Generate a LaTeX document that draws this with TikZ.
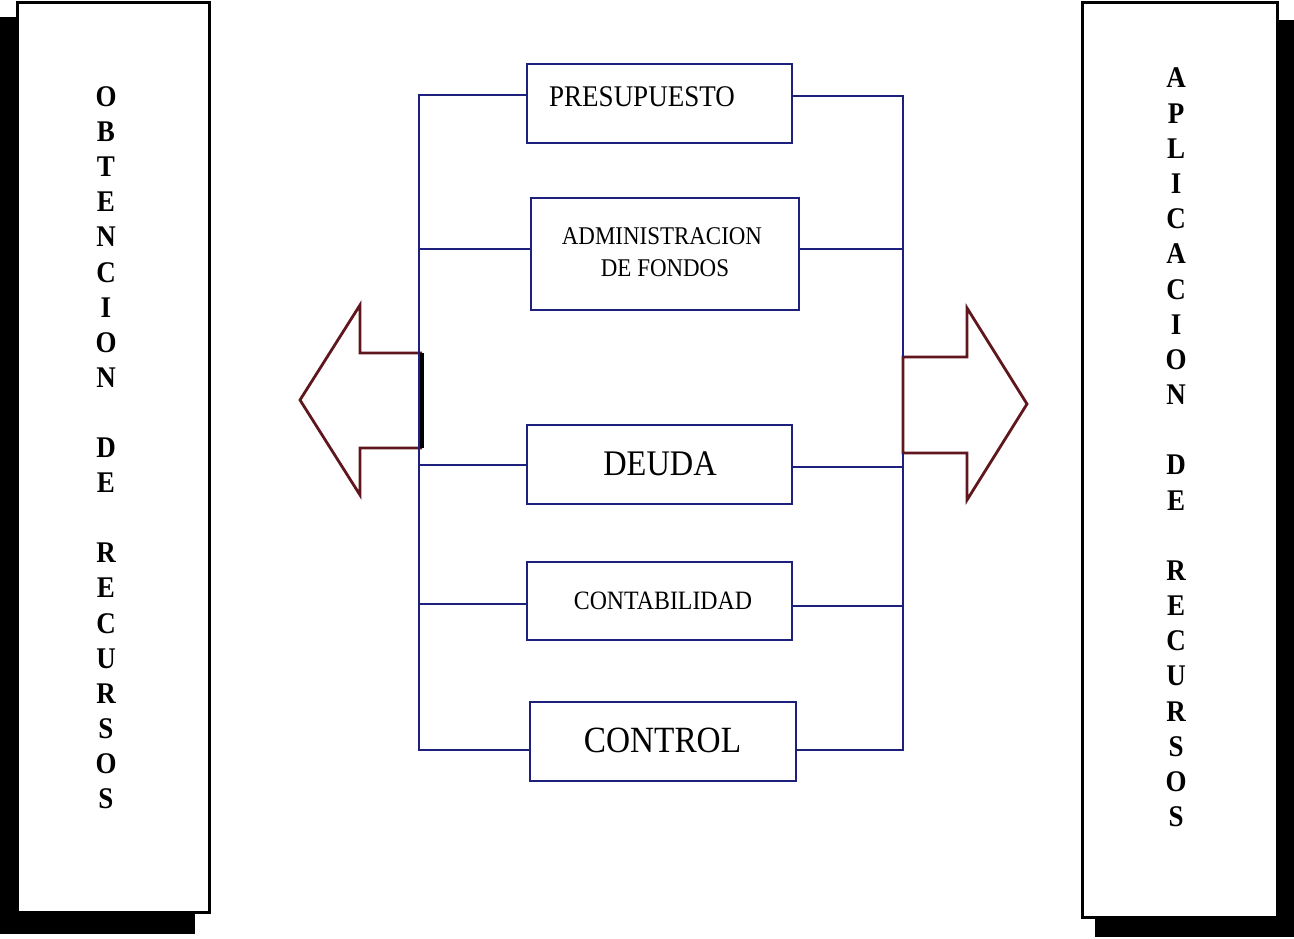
\documentclass[tikz,border=0pt]{standalone}
\usepackage{fontspec}
\setmainfont{Liberation Serif}
\newfontfamily\condfont[FakeStretch=0.9]{Liberation Serif}
\definecolor{navy}{RGB}{30,32,125}
\definecolor{maroon}{RGB}{95,22,28}
\begin{document}
\begin{tikzpicture}[x=1pt,y=-1pt,
  sidebox/.style={draw=black,line width=3pt,fill=white},
  shadowbox/.style={fill=black,draw=none},
  cbox/.style={draw=navy,line width=2.6pt,rectangle,inner sep=0pt},
  bus/.style={draw=navy,line width=2.6pt},
  bigarrow/.style={draw=maroon,line width=2.8pt,line join=miter,fill=white},
  vletter/.style={anchor=base,inner sep=0pt,font=\condfont\bfseries\fontsize{30}{36}\selectfont},
  lbl/.style={anchor=base,inner sep=0pt}]
\useasboundingbox (0,0) rectangle (1294,939);

% side panels with drop shadows
\fill[shadowbox] (0,17) rectangle (195,934);
\draw[sidebox] (17,3) rectangle (209,912);
\fill[shadowbox] (1095,20) rectangle (1294,937);
\draw[sidebox] (1082,3) rectangle (1277,917);

% vertical captions
\foreach \ch/\k in {O/0,B/1,T/2,E/3,N/4,C/5,I/6,O/7,N/8,D/10,E/11,R/13,E/14,C/15,U/16,R/17,S/18,O/19,S/20}
  \node[vletter] (L\k) at (106,106.5+35.1*\k) {\ch};
\foreach \ch/\k in {A/0,P/1,L/2,I/3,C/4,A/5,C/6,I/7,O/8,N/9,D/11,E/12,R/14,E/15,C/16,U/17,R/18,S/19,O/20,S/21}
  \node[vletter] (R\k) at (1176,88+35.17*\k) {\ch};

% big arrows
\draw[bigarrow] (422,353) -- (360,353) -- (360,305) -- (300,400) -- (360,495) -- (360,448) -- (422,448);
\draw[black,line width=4pt] (422,353) -- (422,448);
\draw[bigarrow] (903,357) -- (967,357) -- (967,308) -- (1027,404) -- (967,500) -- (967,453) -- (903,453) -- cycle;

% central boxes
\node[cbox,minimum width=265pt,minimum height=79pt] (pre) at (659.5,103.5) {};
\node[cbox,minimum width=268pt,minimum height=112pt] (adm) at (665,254) {};
\node[cbox,minimum width=265pt,minimum height=79pt] (deu) at (659.5,464.5) {};
\node[cbox,minimum width=265pt,minimum height=78pt] (con) at (659.5,601) {};
\node[cbox,minimum width=266pt,minimum height=79pt] (ctl) at (663,741.5) {};

% box labels
\node[lbl,font=\condfont\fontsize{30}{36}\selectfont] (preT) at (642,107) {PRESUPUESTO};
\node[lbl,font=\condfont\fontsize{25.5}{30}\selectfont] (admT1) at (662,244) {ADMINISTRACION};
\node[lbl,font=\condfont\fontsize{25.5}{30}\selectfont] (admT2) at (665,276) {DE FONDOS};
\node[lbl,font=\condfont\fontsize{36}{42}\selectfont] (deuT) at (660,475) {DEUDA};
\node[lbl,font=\condfont\fontsize{26.5}{32}\selectfont] (conT) at (663,609) {CONTABILIDAD};
\node[lbl,font=\condfont\fontsize{37}{44}\selectfont] (ctlT) at (662.5,752) {CONTROL};

% bus tap points
\coordinate (lp) at (419,95);
\coordinate (la) at (419,249);
\coordinate (ld) at (419,465);
\coordinate (lc) at (419,604);
\coordinate (lt) at (419,750);
\coordinate (rp) at (903,96);
\coordinate (ra) at (903,249);
\coordinate (rd) at (903,467);
\coordinate (rc) at (903,606);
\coordinate (rt) at (903,750);

% left bus
\draw[bus] (pre.west |- lp) -- (lp) -- (lt) -- (ctl.west |- lt);
\draw[bus] (la) -- (adm.west |- la);
\draw[bus] (ld) -- (deu.west |- ld);
\draw[bus] (lc) -- (con.west |- lc);
% right bus
\draw[bus] (pre.east |- rp) -- (rp) -- (rt) -- (ctl.east |- rt);
\draw[bus] (ra) -- (adm.east |- ra);
\draw[bus] (rd) -- (deu.east |- rd);
\draw[bus] (rc) -- (con.east |- rc);
% arrow base over the right bus
\draw[maroon,line width=2.8pt] (903,357) -- (903,453);
\end{tikzpicture}
\end{document}
